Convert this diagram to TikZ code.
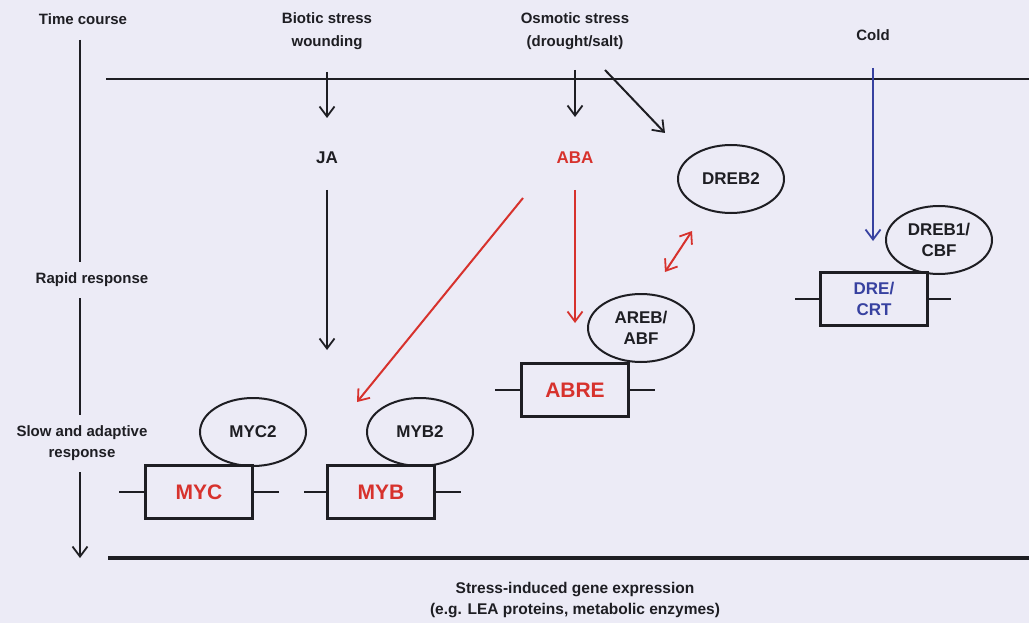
\documentclass[tikz,border=0pt]{standalone}
\usepackage{fontspec}
\setmainfont{Liberation Sans}
\usetikzlibrary{arrows.meta,shapes.geometric}
\definecolor{bg}{RGB}{236,235,246}
\definecolor{rd}{RGB}{215,50,45}
\definecolor{bl}{RGB}{55,65,160}
\definecolor{ink}{RGB}{30,30,35}
\begin{document}
\begin{tikzpicture}[x=1pt,y=-1pt,
  lbl/.style={text=ink,font=\bfseries\fontsize{15}{23}\selectfont,align=center,inner sep=0pt},
  sig/.style={font=\bfseries\fontsize{17}{18}\selectfont,inner sep=0pt},
  tf/.style={ellipse,draw=ink,line width=2pt,minimum width=106pt,minimum height=68pt,inner sep=0pt,
     text=ink,font=\bfseries\fontsize{17}{21}\selectfont,align=center},
  elem/.style={rectangle,draw=ink,line width=2.2pt,minimum width=107pt,minimum height=53pt,inner sep=0pt,
     fill=bg,font=\bfseries\fontsize{21}{22}\selectfont,align=center},
  elemsm/.style={elem,font=\bfseries\fontsize{17}{21}\selectfont},
  stub/.style={draw=ink,line width=2pt},
  tip/.style={},
  arr/.style={draw=ink,line width=2pt,-{Straight Barb[length=10pt,width=15pt,line width=1.8pt]}},
  rarr/.style={arr,draw=rd},
  barr/.style={arr,draw=bl},
]
\fill[bg] (0,0) rectangle (1029,623);
\useasboundingbox (0,0) rectangle (1029,623);

% headings
\node[lbl] (tc) at (83,19) {Time course};
\node[lbl] (bio) at (327,31) {Biotic stress\\wounding};
\node[lbl] (osm) at (575,31) {Osmotic stress\\(drought/salt)};
\node[lbl] (cold) at (873,35) {Cold};
\node[lbl] (rapid) at (92,280) {Rapid response};
\node[lbl,font=\bfseries\fontsize{15}{21}\selectfont] (slow) at (82,443) {Slow and adaptive\\response};

% horizontal rules
\coordinate (tl1) at (106,79); \coordinate (tl2) at (1029,79);
\draw[draw=ink,line width=2pt] (tl1) -- (tl2);
\coordinate (bl1) at (108,558); \coordinate (bl2) at (1029,558);
\draw[draw=ink,line width=3.5pt] (bl1) -- (bl2);

% time axis
\coordinate (t0) at (80,40); \coordinate (t1) at (80,262);
\coordinate (t2) at (80,298); \coordinate (t3) at (80,415);
\coordinate (t4) at (80,472); \coordinate (t5) at (80,558);
\draw[draw=ink,line width=2pt] (t0) -- (t1);
\draw[draw=ink,line width=2pt] (t2) -- (t3);
\draw[arr] (t4) -- (t5);

% signals
\node[sig,text=ink] (ja) at (327,158) {JA};
\node[sig,text=rd] (aba) at (575,158) {ABA};

% transcription factors
\node[tf] (dreb2) at (731,179) {DREB2};
\node[tf] (areb) at (641,328) {AREB/\\ABF};
\node[tf] (dreb1) at (939,240) {DREB1/\\CBF};
\node[tf] (myc2) at (253,432) {MYC2};
\node[tf] (myb2) at (420,432) {MYB2};

% cis elements
\node[elem,text=rd] (abre) at (575,390) {ABRE};
\node[elemsm,text=bl] (dre) at (874,299) {DRE/\\CRT};
\node[elem,text=rd] (myc) at (199,492) {MYC};
\node[elem,text=rd] (myb) at (381,492) {MYB};

\draw[stub] (abre.west) -- ++(-25,0);
\draw[stub] (abre.east) -- ++(25,0);
\draw[stub] (dre.west) -- ++(-24,0);
\draw[stub] (dre.east) -- ++(22,0);
\draw[stub] (myc.west) -- ++(-25,0);
\draw[stub] (myc.east) -- ++(25,0);
\draw[stub] (myb.west) -- ++(-22,0);
\draw[stub] (myb.east) -- ++(25,0);

% arrows
\coordinate (a1s) at (327,72);  \coordinate (a1e) at (327,118);
\draw[arr] (a1s) -- (a1e);
\coordinate (a2s) at (327,190); \coordinate (a2e) at (327,350);
\draw[arr] (a2s) -- (a2e);
\coordinate (a3s) at (575,70);  \coordinate (a3e) at (575,117);
\draw[arr] (a3s) -- (a3e);
\coordinate (a4s) at (605,70);  \coordinate (a4e) at (665,133);
\draw[arr] (a4s) -- (a4e);
\coordinate (a5s) at (575,190); \coordinate (a5e) at (575,323);
\draw[rarr] (a5s) -- (a5e);
\coordinate (a6s) at (523,198); \coordinate (a6e) at (357,402);
\draw[rarr] (a6s) -- (a6e);
\coordinate (a7s) at (665,272); \coordinate (a7e) at (692,231);
\draw[rarr,{Straight Barb[length=10pt,width=15pt,line width=1.8pt]}-{Straight Barb[length=10pt,width=15pt,line width=1.8pt]}] (a7s) -- (a7e);
\coordinate (a8s) at (873,68);  \coordinate (a8e) at (873,241);
\draw[barr] (a8s) -- (a8e);

% output
\node[text=ink,font=\bfseries\fontsize{15.5}{21}\selectfont,align=center,inner sep=0pt] (out) at (575,600)
  {Stress-induced gene expression\\(e.g. LEA proteins, metabolic enzymes)};
\end{tikzpicture}
\end{document}
